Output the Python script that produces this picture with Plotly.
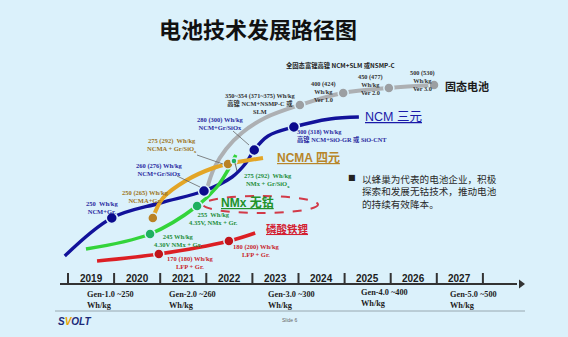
import plotly.graph_objects as go

W, H = 568, 337
BG = "#dbf1fb"

# ---------------- data (x = year on the timeline, y = schematic level) -------------
years = [2019, 2020, 2021, 2022, 2023, 2024, 2025, 2026, 2027]
tick_years = [2019, 2020, 2021, 2022, 2023, 2024, 2025, 2026, 2027, 2028]
gen_labels = ["Gen-1.0 ~250<br>Wh/kg", "Gen-2.0 ~260<br>Wh/kg", "Gen-3.0 ~300<br>Wh/kg",
              "Gen-4.0 ~400<br>Wh/kg", "Gen-5.0 ~500<br>Wh/kg"]

# curves
ncm_x = [2018.93, 2019.95, 2021.00, 2021.95, 2022.56, 2022.86, 2023.04, 2023.34, 2023.90, 2024.68, 2025.31]
ncm_y = [81, 119, 134, 146, 160, 174, 187, 201, 210, 218, 220]
ncma_x = [2020.84, 2021.06, 2021.58, 2022.15, 2022.47, 2023.23]
ncma_y = [119, 139, 157, 169, 173, 179]
nmx_x = [2019.39, 2020.78, 2021.80, 2022.23, 2022.47, 2022.64]
nmx_y = [88, 103, 131, 150, 167, 182]
lfp_x = [2019.63, 2020.97, 2022.49, 2023.06]
lfp_y = [76, 83, 96, 104]
ss_x = [2022.02, 2022.17, 2022.43, 2022.77, 2023.27, 2024.03, 2024.97, 2025.96, 2026.94]
ss_y = [149, 169, 188, 204, 219, 232, 244, 249, 252]

# milestone points
ncm_pt_x = [2019.95, 2021.95, 2023.04, 2023.90]
ncm_pt_y = [119, 146, 187, 210]
ncm_pt_wh = ["250", "260 (276)", "280 (300)", "300 (318)"]
ncma_pt_x = [2020.84, 2022.47]
ncma_pt_y = [119, 173]
ncma_pt_wh = ["250 (265)", "275 (292)"]
nmx_pt_x = [2020.78, 2021.80, 2022.60]
nmx_pt_y = [103, 131, 176]
nmx_pt_wh = ["245", "255", "275 (292)"]
lfp_pt_x = [2020.97, 2022.49]
lfp_pt_y = [83, 96]
lfp_pt_wh = ["170 (180)", "180 (200)"]
ss_pt_x = [2024.03, 2024.97, 2025.96, 2026.94]
ss_pt_y = [232, 244, 249, 252]
ss_pt_wh = ["350~354 (371~375)", "400 (424)", "450 (477)", "500 (530)"]

# ---------------- figure ----------------
PX_PER_YEAR = 46.1
X0 = 2019 - 68 / PX_PER_YEAR
X1 = X0 + W / PX_PER_YEAR

fig = go.Figure()

C_BLUE = "#12129a"
C_ORANGE = "#e3a526"
C_GREEN = "#33d43a"
C_RED = "#dc1f24"
C_GRAY = "#adb0b3"


def curve(x, y, color, width):
    fig.add_trace(go.Scatter(x=x, y=y, mode="lines", hoverinfo="skip",
                             line=dict(color=color, width=width, shape="spline", smoothing=1.0)))


def points(x, y, color, size, txt):
    fig.add_trace(go.Scatter(x=x, y=y, mode="markers", text=txt, hoverinfo="text",
                             marker=dict(color=color, size=size, line=dict(color=BG, width=1.5))))


curve(ss_x, ss_y, C_GRAY, 4)
curve(lfp_x, lfp_y, C_RED, 3.5)
curve(ncm_x, ncm_y, C_BLUE, 3.4)
curve(ncma_x, ncma_y, C_ORANGE, 4)
curve(nmx_x, nmx_y, C_GREEN, 3.5)

points(ss_pt_x, ss_pt_y, "#9c9fa2", 10, ss_pt_wh)
points(lfp_pt_x, lfp_pt_y, "#c0141a", 10, lfp_pt_wh)
points(ncm_pt_x, ncm_pt_y, "#0a0a8c", 11, ncm_pt_wh)
points(ncma_pt_x, ncma_pt_y, "#b98225", 10, ncma_pt_wh)
points(nmx_pt_x[:2], nmx_pt_y[:2], "#1fb060", 10, nmx_pt_wh[:2])
points(nmx_pt_x[2:], nmx_pt_y[2:], "#1fb060", 6, nmx_pt_wh[2:])

# timeline arrow head
fig.add_trace(go.Scatter(x=[X0 + 521 / PX_PER_YEAR], y=[H - 284], mode="markers", hoverinfo="skip",
                         marker=dict(symbol="triangle-right", size=8, color="#333333")))


def px(x):
    return x / W


def py(y):
    return 1 - y / H


def ann(x, y, text, size, color, family="Liberation Serif, Noto Sans CJK SC", xanchor="center",
        yanchor="middle", align="center"):
    fig.add_annotation(x=px(x), y=py(y), xref="paper", yref="paper", text=text, showarrow=False,
                       font=dict(size=size, color=color, family=family), xanchor=xanchor,
                       yanchor=yanchor, align=align, borderpad=0)


def seg(x0, y0, x1, y1, color, width, dash=None):
    fig.add_shape(type="line", xref="paper", yref="paper", x0=px(x0), y0=py(y0), x1=px(x1), y1=py(y1),
                  line=dict(color=color, width=width, dash=dash))


# title
ann(258, 28, "<b>电池技术发展路径图</b>", 22, "#111111", family="Noto Sans CJK SC")

# dashed ellipse around the cobalt-free segment
fig.add_shape(type="circle", xref="paper", yref="paper", x0=px(203), x1=px(318), y0=py(196), y1=py(213),
              line=dict(color="#d23a48", width=2, dash="dash"))

# pointer lines
seg(177, 176, 200, 187, "#666666", 0.8)
seg(197, 155, 223, 164, "#666666", 0.8)
seg(233, 131, 249, 145, "#666666", 0.8)
seg(235, 163, 237, 171, "#444444", 0.8)

# series names
ann(393, 117, "<u>NCM 三元</u>", 12.5, "#1a1aa8", family="Liberation Sans, Noto Sans CJK SC")
ann(308, 158, "<b><u>NCMA 四元</u></b>", 12, "#b8862a", family="Liberation Sans, Noto Sans CJK SC")
ann(248, 202, "<b><u>NMx 无钴</u></b>", 12, "#22922a", family="Liberation Sans, Noto Sans CJK SC")
ann(287, 228, "<b><u>磷酸铁锂</u></b>", 10.5, "#d42030", family="Noto Sans CJK SC")
ann(467, 86, "<b>固态电池</b>", 11, "#1a1a1a", family="Noto Sans CJK SC")
ann(340, 65, "<b>全固态富锂高镍 NCM+SLM 或NSMP-C</b>", 6.3, "#222222",
    family="Noto Sans CJK SC, Liberation Sans")

# point labels
B = "#2a2aa0"
ann(102, 207, "<b>%s  Wh/kg<br>NCM+Gr.</b>" % ncm_pt_wh[0], 6.5, B)
ann(159, 169, "<b>%s Wh/kg<br>NCM+Gr/SiOx</b>" % ncm_pt_wh[1], 6.5, B)
ann(220, 123, "<b>%s Wh/kg<br>NCM+Gr/SiOx</b>" % ncm_pt_wh[2], 6.5, B)
ann(296, 135.5, "<b>%s Wh/kg<br>高镍 NCM+SiO-GR 或 SiO-CNT</b>" % ncm_pt_wh[3], 6.3, B,
    xanchor="left", align="left")
O = "#9c7422"
ann(145, 196, "<b>%s Wh/kg<br>NCMA+Gr.</b>" % ncma_pt_wh[0], 6.5, O)
ann(172, 145, "<b>%s  Wh/kg<br>NCMA + Gr/SiO<sub>x</sub></b>" % ncma_pt_wh[1], 6.5, O)
G = "#1e8e3a"
ann(178, 240.5, "<b>%s Wh/kg<br>4.30V NMx + Gr.</b>" % nmx_pt_wh[0], 6.5, G)
ann(213, 218, "<b>%s  Wh/kg<br>4.35V, NMx + Gr.</b>" % nmx_pt_wh[1], 6.5, G)
ann(268, 180, "<b>%s  Wh/kg<br>NMx + Gr/SiO<sub>x</sub></b>" % nmx_pt_wh[2], 6.5, G)
R = "#c81e2a"
ann(190, 262.5, "<b>%s Wh/kg<br>LFP + Gr.</b>" % lfp_pt_wh[0], 6.5, R)
ann(256, 250, "<b>%s Wh/kg<br>LFP + Gr.</b>" % lfp_pt_wh[1], 6.5, R)
K = "#333333"
ann(260, 103, "<b>%s Wh/kg<br>高镍 NCM+NSMP-C 或<br>SLM</b>" % ss_pt_wh[0], 6.3, K)
ann(323, 91, "<b>%s<br>Wh/kg<br>Ver 1.0</b>" % ss_pt_wh[1], 6.3, K)
ann(370, 85, "<b>%s<br>Wh/kg<br>Ver 2.0</b>" % ss_pt_wh[2], 6.3, K)
ann(422, 80, "<b>%s<br>Wh/kg<br>Ver 3.0</b>" % ss_pt_wh[3], 6.3, K)

# bullet text
ann(352, 177, "■", 8, "#222222", family="DejaVu Sans")
ann(361, 171, "以蜂巢为代表的电池企业，积极<br>探索和发展无钴技术，推动电池<br>的持续有效降本。", 9.6,
    "#2a2a2a", family="Noto Sans CJK SC", xanchor="left", yanchor="top", align="left")

# timeline
seg(60, 284, 517, 284, "#333333", 2)
for yv in tick_years:
    fig.add_shape(type="line", xref="x", yref="paper", x0=yv, x1=yv, y0=py(285), y1=py(273),
                  line=dict(color="#333333", width=2))
for yv in years:
    fig.add_annotation(x=yv + 0.5, y=py(278.5), xref="x", yref="paper", text="<b>%d</b>" % yv,
                       showarrow=False, xanchor="center", yanchor="middle", borderpad=0,
                       font=dict(size=10, color="#1c1c1c", family="Liberation Sans"))

gen_x = [86, 168, 267, 360, 449]
gen_y = [299.5, 299.5, 299.5, 298, 299.5]
for gx, gy, gt in zip(gen_x, gen_y, gen_labels):
    ann(gx, gy, "<b>%s</b>" % gt, 8.3, "#1e1e1e", xanchor="left", align="left")

seg(55, 311, 525, 311, "#98a8b0", 1)
ann(74, 321, "<b><i>S<span style='color:#e8a400'>V</span>OLT</i></b>", 10, "#1c2a78",
    family="Liberation Sans")
ann(290, 320, "Slide 6", 5, "#666666", family="Liberation Sans")

fig.update_layout(
    width=W, height=H, margin=dict(l=0, r=0, t=0, b=0),
    paper_bgcolor=BG, plot_bgcolor=BG, showlegend=False,
    xaxis=dict(range=[X0, X1], visible=False, fixedrange=True),
    yaxis=dict(range=[0, H], visible=False, fixedrange=True),
)

fig.write_html("out.html")
